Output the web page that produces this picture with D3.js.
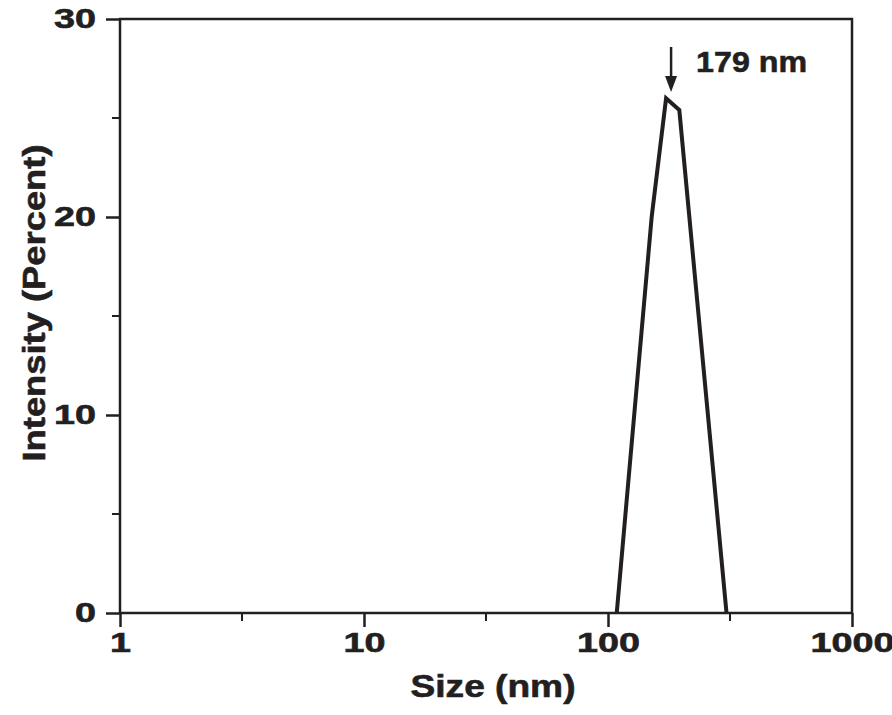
<!DOCTYPE html>
<html><head><meta charset="utf-8">
<script src="https://cdn.jsdelivr.net/npm/d3@7"></script>
<style>body{margin:0;background:#fff}text{font-family:"Liberation Sans",Arial,sans-serif;font-weight:bold;fill:#231f20;stroke:#231f20;stroke-width:0.6px}</style>
</head><body><svg id="c" width="892" height="715"></svg>
<script>
// size distribution (nm vs intensity %)
var sizes = [108.6, 151, 173, 196, 306];
var intensity = [0, 20.0, 26.0, 25.4, 0];
var xTicks = [1, 10, 100, 1000];
var yTicks = [0, 10, 20, 30];
var peakLabel = "179 nm";

var svg = d3.select("#c");
var m = {l: 120, r: 852, t: 19, b: 613};
var x = d3.scaleLog().domain([1, 1000]).range([m.l, m.r]);
var y = d3.scaleLinear().domain([0, 30]).range([m.b, m.t]);
var ink = "#231f20";
var digitW = 21;

// frame
svg.append("rect").attr("x", m.l).attr("y", m.t).attr("width", m.r - m.l).attr("height", m.b - m.t)
    .attr("fill", "none").attr("stroke", ink).attr("stroke-width", 2.5);

var xa = svg.append("g").attr("transform", "translate(0," + m.b + ")")
    .call(d3.axisBottom(x).tickValues(xTicks).tickFormat(d3.format("d")).tickSize(14).tickPadding(6));
var minorX = xTicks.slice(0, 3).map(function(d) { return d * Math.sqrt(10); });
xa.selectAll(".mn").data(minorX).enter().append("line").attr("class", "mn")
    .attr("x1", x).attr("x2", x).attr("y1", 0).attr("y2", 8).attr("stroke", ink).attr("stroke-width", 2);

var ya = svg.append("g").attr("transform", "translate(" + m.l + ",0)")
    .call(d3.axisLeft(y).tickValues(yTicks).tickSize(14).tickPadding(10));
ya.selectAll(".mn").data([5, 15, 25]).enter().append("line").attr("class", "mn")
    .attr("y1", y).attr("y2", y).attr("x1", 0).attr("x2", -8).attr("stroke", ink).attr("stroke-width", 2);

[xa, ya].forEach(function(a) {
    a.select(".domain").remove();
    a.selectAll(".tick line").attr("stroke", ink).attr("stroke-width", 2.5);
    a.selectAll(".tick text").style("font-size", "27px").attr("fill", ink)
        .attr("textLength", function() { return this.textContent.length * digitW; })
        .attr("lengthAdjust", "spacingAndGlyphs");
});

svg.append("text").attr("x", (m.l + m.r) / 2 + 7).attr("y", 697).attr("text-anchor", "middle")
    .style("font-size", "31px").attr("textLength", 165).attr("lengthAdjust", "spacingAndGlyphs").text("Size (nm)");
svg.append("text").attr("transform", "translate(45," + 303 + ") rotate(-90)")
    .attr("text-anchor", "middle").style("font-size", "31px")
    .attr("textLength", 317).attr("lengthAdjust", "spacingAndGlyphs").text("Intensity (Percent)");

var line = d3.line().x(function(d, i) { return x(sizes[i]); }).y(function(d) { return y(d); });
svg.append("path").datum(intensity).attr("d", line).attr("fill", "none")
    .attr("stroke", ink).attr("stroke-width", 4).attr("stroke-linejoin", "miter");

// peak annotation
var px = x(173) + 5;
svg.append("line").attr("x1", px).attr("x2", px).attr("y1", 47).attr("y2", 80).attr("stroke", ink).attr("stroke-width", 2.5);
svg.append("path").attr("d", "M" + (px - 6) + ",76L" + (px + 6) + ",76L" + px + ",92Z").attr("fill", ink);
svg.append("text").attr("x", px + 25).attr("y", 72).style("font-size", "30px")
    .attr("textLength", 111).attr("lengthAdjust", "spacingAndGlyphs").text(peakLabel);
</script></body></html>
